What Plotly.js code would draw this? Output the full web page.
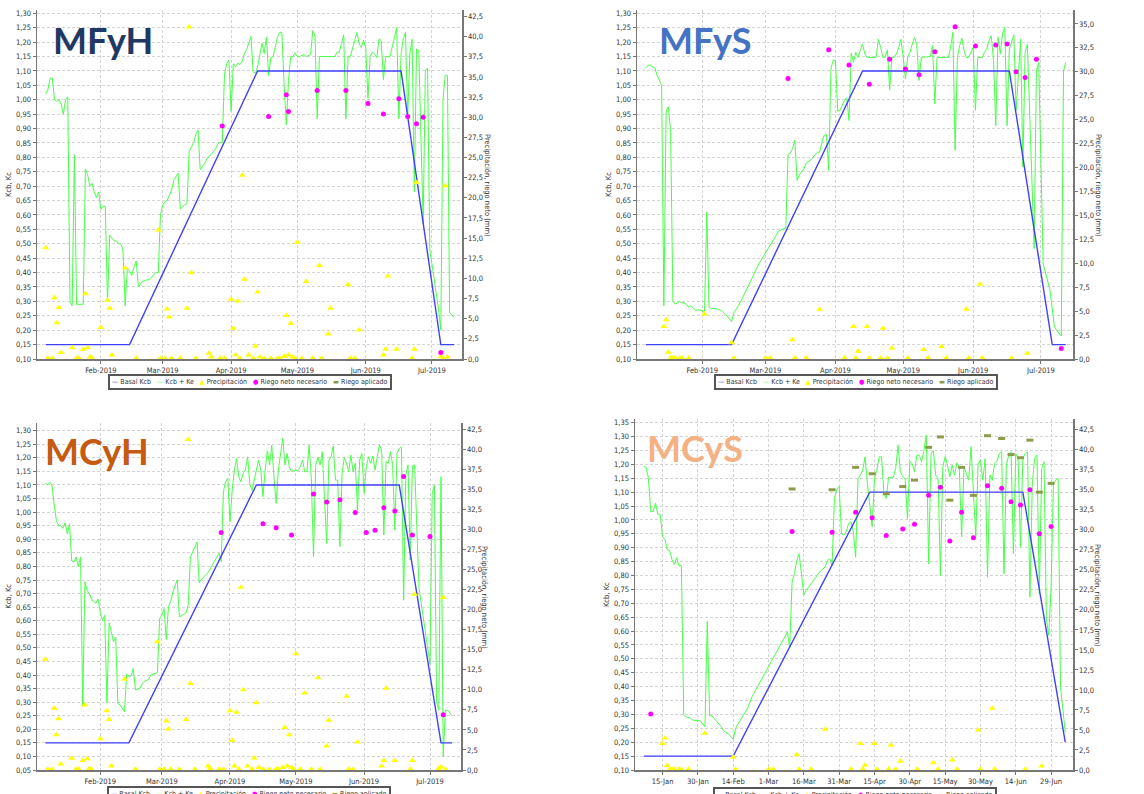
<!DOCTYPE html>
<html><head><meta charset="utf-8">
<script src="https://cdn.plot.ly/plotly-3.0.1.min.js"></script>
<style>html,body{margin:0;padding:0;background:#fff;}#chart{width:1144px;height:794px;}</style>
</head><body><div id="chart"></div>
<script>
// ---------- DATA (day of year 2019, value) ----------
const seriesNames = ['Basal Kcb','Kcb + Ke','Precipitación','Riego neto necesario','Riego aplicado'];
const panelNames = ['MFyH','MFyS','MCyH','MCyS'];

// Basal Kcb
const basal_MFyH = [[7,0.15],[45,0.15],[103,1.10],[168,1.10],[186,0.15],[192,0.15]];
const basal_MFyS = [[7,0.15],[45,0.15],[103,1.10],[168,1.10],[187,0.15],[193,0.15]];
const basal_MCyH = [[7,0.15],[45,0.15],[103,1.10],[168,1.10],[187,0.15],[192,0.15]];
const basal_MCyS = [[7,0.15],[45,0.15],[103,1.10],[168,1.10],[186,0.20]];

// Kcb + Ke
const kc_MFyH = [[7,1.02],[8,1.035],[9,1.075],[10,1.075],[11,1.00],[12,0.995],[13,1.00],[14,0.985],[15,0.95],[16,1.00],[17,1.01],[18,0.30],[19,0.285],[20,0.81],[21,0.29],[22,0.29],[23,0.29],[24,0.29],[25,0.76],[26,0.74],[27,0.70],[28,0.71],[29,0.68],[30,0.66],[31,0.68],[32,0.62],[33,0.63],[34,0.63],[35,0.30],[36,0.53],[37,0.52],[38,0.51],[39,0.51],[40,0.50],[41,0.50],[42,0.48],[43,0.285],[44,0.415],[45,0.405],[46,0.39],[47,0.42],[48,0.44],[49,0.35],[50,0.36],[51,0.37],[53,0.375],[54,0.375],[55,0.385],[57,0.40],[58,0.40],[59,0.60],[60,0.635],[61,0.645],[62,0.65],[63,0.665],[64,0.685],[65,0.72],[66,0.735],[67,0.745],[68,0.62],[69,0.63],[70,0.635],[71,0.64],[72,0.82],[73,0.835],[74,0.85],[75,0.88],[76,0.895],[77,0.757],[79,0.778],[80,0.795],[82,0.81],[84,0.83],[85,0.847],[86,0.853],[87,0.85],[88,1.09],[89,1.125],[90,1.138],[91,0.96],[92,1.125],[93,1.115],[94,1.127],[95,1.122],[96,1.133],[97,1.16],[98,1.173],[99,1.195],[100,1.22],[101,1.095],[102,1.092],[103,1.113],[104,1.16],[105,1.197],[106,1.16],[107,1.218],[108,1.084],[109,1.147],[110,1.15],[111,1.18],[112,1.217],[113,1.234],[114,1.234],[115,1.055],[116,0.913],[117,1.066],[118,1.15],[119,1.15],[120,1.163],[121,1.15],[122,1.15],[124,1.157],[125,1.15],[127,1.157],[128,1.24],[129,1.222],[130,0.934],[131,1.15],[138,1.15],[139,1.165],[140,1.165],[141,1.195],[142,1.225],[143,0.934],[144,1.15],[145,1.15],[146,1.176],[147,1.21],[148,1.234],[149,1.194],[150,1.182],[151,1.207],[152,1.18],[153,1.006],[154,1.15],[155,1.165],[156,1.159],[157,1.147],[158,1.211],[159,1.205],[160,1.07],[161,1.15],[163,1.15],[164,1.184],[165,1.219],[166,1.25],[167,0.934],[168,1.16],[169,1.211],[170,1.234],[171,0.94],[172,1.16],[173,1.21],[174,0.68],[175,1.176],[176,1.17],[178,0.57],[179,1.10],[180,1.11],[181,0.48],[182,0.43],[183,0.38],[184,0.33],[185,0.27],[186,0.20],[187,1.00],[188,1.085],[189,1.085],[190,0.26],[192,0.245]];
const kc_MFyS = [[7,1.11],[8,1.12],[9,1.12],[10,1.115],[11,1.11],[12,1.085],[13,1.07],[14,1.05],[15,0.285],[16,0.96],[17,0.975],[18,0.89],[19,0.30],[20,0.29],[21,0.295],[22,0.30],[23,0.295],[24,0.295],[25,0.29],[26,0.28],[27,0.285],[29,0.27],[30,0.27],[31,0.27],[33,0.265],[34,0.61],[35,0.28],[36,0.275],[37,0.275],[38,0.275],[40,0.27],[41,0.265],[42,0.255],[43,0.25],[44,0.24],[45,0.23],[46,0.26],[48,0.285],[50,0.315],[52,0.345],[54,0.38],[57,0.43],[60,0.47],[63,0.51],[66,0.545],[69,0.555],[70,0.81],[71,0.815],[72,0.83],[73,0.86],[74,0.72],[75,0.74],[77,0.76],[78,0.78],[80,0.79],[81,0.80],[83,0.818],[84,0.818],[85,0.853],[86,0.876],[87,0.88],[88,0.755],[89,1.107],[90,1.138],[91,1.136],[92,0.96],[93,0.963],[94,0.98],[95,0.997],[96,1.007],[97,0.928],[98,1.161],[99,1.13],[100,1.165],[101,1.147],[102,1.173],[103,1.193],[104,1.159],[105,1.147],[109,1.147],[110,1.21],[111,1.182],[112,1.147],[113,1.147],[114,1.173],[115,1.034],[116,1.147],[117,1.147],[118,1.159],[119,1.18],[120,1.21],[121,1.147],[122,1.072],[123,1.15],[124,1.165],[125,1.193],[126,1.217],[127,1.193],[128,1.067],[129,1.147],[133,1.15],[134,1.188],[135,0.986],[136,1.147],[141,1.147],[142,1.184],[143,1.234],[144,0.824],[145,1.147],[146,1.188],[147,1.214],[148,1.17],[149,1.147],[150,1.147],[151,1.165],[152,1.182],[153,0.963],[154,1.147],[156,1.147],[157,1.165],[158,1.176],[159,1.205],[160,1.222],[161,1.136],[162,0.91],[163,1.217],[164,1.159],[165,1.23],[166,1.251],[167,0.91],[168,1.176],[169,1.205],[170,1.226],[171,0.963],[172,1.10],[173,1.21],[174,0.766],[175,1.165],[176,1.193],[179,0.483],[180,1.10],[181,1.13],[183,0.43],[184,0.40],[186,0.34],[188,0.21],[190,0.19],[191,0.18],[192,1.10],[193,1.13]];
const kc_MCyH = [[7,1.106],[8,1.10],[9,1.11],[10,1.10],[11,1.03],[12,0.97],[13,0.95],[14,0.95],[15,0.94],[16,0.96],[17,0.92],[18,0.957],[19,0.82],[20,0.816],[21,0.835],[22,0.80],[23,0.835],[24,0.286],[25,0.743],[26,0.712],[27,0.70],[28,0.68],[29,0.669],[30,0.665],[31,0.68],[32,0.63],[33,0.60],[34,0.62],[35,0.298],[36,0.592],[37,0.559],[38,0.522],[39,0.54],[40,0.295],[41,0.29],[42,0.277],[43,0.265],[44,0.403],[45,0.396],[46,0.396],[47,0.424],[48,0.345],[49,0.347],[50,0.35],[51,0.367],[52,0.375],[54,0.384],[55,0.40],[57,0.406],[58,0.41],[59,0.608],[60,0.62],[61,0.645],[62,0.531],[63,0.651],[64,0.67],[65,0.705],[66,0.73],[67,0.751],[68,0.614],[69,0.62],[70,0.626],[71,0.629],[72,0.657],[73,0.835],[74,0.853],[75,0.874],[76,0.89],[77,0.74],[79,0.762],[81,0.777],[83,0.805],[85,0.836],[86,0.848],[87,0.818],[88,1.075],[89,1.112],[90,1.125],[91,0.965],[92,1.08],[93,1.155],[94,1.198],[95,1.13],[96,1.112],[97,1.143],[98,1.155],[99,1.204],[100,1.106],[101,1.08],[102,1.118],[103,1.161],[104,1.192],[105,1.155],[106,1.057],[107,1.155],[108,1.226],[109,1.174],[110,1.247],[111,1.13],[112,1.032],[113,1.155],[114,1.216],[115,1.272],[116,1.174],[117,1.216],[118,1.167],[119,1.149],[120,1.153],[122,1.153],[123,1.167],[124,1.192],[125,1.149],[126,1.149],[127,1.247],[128,1.125],[129,0.836],[130,1.174],[131,1.202],[132,1.174],[133,1.223],[134,1.039],[135,0.885],[136,1.192],[137,1.204],[138,1.244],[139,1.118],[140,1.118],[141,0.873],[142,1.143],[143,1.202],[144,1.18],[145,1.149],[146,1.21],[147,1.149],[148,1.18],[149,1.008],[150,1.192],[151,1.216],[152,1.069],[153,1.167],[154,1.204],[155,1.18],[156,1.207],[157,1.155],[158,1.204],[159,1.247],[160,1.229],[161,0.916],[162,1.186],[163,1.18],[164,1.223],[165,1.174],[166,0.934],[167,1.216],[168,1.235],[169,1.239],[170,0.676],[171,1.137],[172,1.174],[173,0.824],[174,1.17],[175,1.174],[177,0.72],[179,0.60],[182,0.44],[183,1.07],[184,1.10],[185,0.30],[186,0.27],[187,1.13],[188,0.10],[189,0.27],[190,0.27],[192,0.25]];
const kc_MCyS = [[7,1.193],[8,1.19],[9,1.15],[10,1.03],[11,1.03],[12,1.06],[13,1.02],[14,1.02],[15,0.94],[16,0.93],[17,0.893],[18,0.89],[19,0.857],[20,0.84],[21,0.864],[22,0.834],[23,0.836],[24,0.30],[25,0.291],[27,0.286],[28,0.279],[30,0.277],[31,0.277],[33,0.255],[34,0.635],[35,0.295],[36,0.295],[38,0.275],[40,0.255],[41,0.24],[43,0.23],[45,0.21],[46,0.25],[48,0.279],[51,0.32],[53,0.364],[56,0.41],[59,0.46],[62,0.505],[65,0.55],[68,0.596],[69,0.54],[70,0.776],[71,0.806],[72,0.854],[73,0.878],[75,0.73],[76,0.746],[78,0.77],[80,0.794],[82,0.816],[84,0.83],[85,0.854],[86,0.86],[87,0.836],[88,1.077],[89,1.11],[90,1.121],[91,0.95],[92,0.945],[93,0.957],[94,0.987],[95,0.993],[96,0.957],[97,0.866],[98,1.149],[99,1.16],[100,1.179],[101,1.227],[102,1.13],[103,1.04],[104,0.975],[105,1.149],[106,1.179],[107,1.227],[108,1.227],[109,1.095],[110,1.077],[111,1.153],[112,1.153],[113,1.153],[114,1.185],[115,1.27],[116,1.173],[117,1.155],[118,1.149],[119,1.005],[120,1.21],[121,1.203],[122,1.173],[123,1.233],[124,1.233],[125,1.21],[126,1.25],[127,1.305],[128,0.842],[129,1.239],[130,1.249],[131,1.161],[132,1.149],[133,0.80],[134,1.19],[135,1.227],[136,1.197],[137,1.155],[138,1.197],[139,1.161],[140,1.205],[141,1.191],[142,0.939],[143,1.191],[144,1.167],[145,1.143],[146,1.263],[147,1.089],[148,0.939],[149,1.203],[150,1.215],[151,1.143],[152,1.22],[153,0.794],[154,1.161],[155,1.143],[156,1.203],[157,1.21],[158,1.239],[159,1.245],[160,0.806],[161,1.197],[162,1.233],[163,1.245],[164,0.878],[165,1.239],[166,1.221],[167,0.902],[168,1.221],[169,1.239],[170,1.245],[171,0.722],[172,1.125],[173,1.221],[174,1.233],[175,0.734],[176,1.185],[177,1.209],[178,0.644],[179,0.584],[180,0.758],[181,1.131],[182,1.143],[183,1.149],[184,0.397],[185,0.32],[186,0.236]];

// Precipitación (mm)
const prec_MFyH = [[7,13.8],[8,0.1],[10,0.1],[11,7.6],[12,4.5],[13,6.4],[14,0.8],[19,1.4],[21,0.1],[22,0.1],[24,1.2],[25,8.1],[26,1.4],[27,0.25],[28,0.1],[32,3.9],[35,7.3],[36,6.3],[37,0.5],[43,11.3],[48,0.1],[58,16.0],[59,0.1],[61,0.1],[62,6.2],[63,5.2],[64,0.1],[68,0.1],[71,6.3],[72,41.2],[73,10.7],[75,0.1],[81,0.7],[82,0.25],[86,0.1],[88,0.1],[91,7.4],[92,3.8],[93,0.5],[94,7.2],[95,0.1],[96,22.8],[97,9.9],[99,0.5],[101,0.1],[102,1.6],[103,8.3],[104,0.25],[106,0.1],[109,0.1],[112,0.1],[113,0.1],[115,0.3],[116,5.4],[117,0.5],[118,4.4],[119,0.25],[120,0.1],[121,14.5],[123,0.1],[125,9.6],[128,0.1],[131,11.6],[132,0.1],[135,3.1],[136,6.3],[144,9.2],[145,0.1],[147,0.1],[149,3.6],[160,0.5],[161,1.2],[162,10.3],[166,1.2],[173,0.1],[174,1.2],[175,21.9],[186,0.3],[187,0.1],[188,21.5],[189,0.25]];
const prec_MFyS = [[15,3.4],[16,4.1],[17,0.7],[18,0.1],[19,0.1],[20,0.1],[22,0.1],[23,0.1],[26,0.1],[33,4.7],[45,1.7],[46,0.1],[60,0.1],[62,0.1],[72,2.0],[73,0.1],[78,0.1],[84,5.2],[95,0.1],[99,3.4],[100,0.1],[101,0.8],[105,3.4],[106,0.1],[111,0.1],[112,3.2],[114,0.1],[116,1.15],[123,0.1],[130,1.0],[132,0.1],[138,1.3],[140,0.1],[149,5.2],[150,0.1],[155,7.8],[156,0.1],[169,0.1],[176,0.6]];
const prec_MCyH = [[7,13.8],[8,0.1],[10,0.1],[11,7.7],[12,4.4],[13,6.4],[14,0.75],[19,1.45],[21,0.1],[22,0.1],[24,1.2],[25,8.1],[26,1.4],[27,0.2],[28,0.1],[32,3.9],[35,7.4],[36,6.3],[37,0.5],[43,11.3],[48,0.1],[58,16.0],[59,0.1],[61,0.1],[62,6.1],[63,5.1],[64,0.1],[68,0.1],[71,6.3],[72,41.2],[73,10.8],[75,0.1],[81,0.5],[82,0.2],[86,0.1],[88,0.1],[91,7.4],[92,3.7],[93,0.5],[94,7.2],[95,0.1],[96,22.8],[97,10.0],[99,0.5],[101,0.1],[102,1.5],[103,8.4],[104,0.3],[106,0.1],[109,0.1],[112,0.1],[113,0.1],[115,0.3],[116,5.3],[117,0.5],[118,4.4],[119,0.3],[120,0.1],[121,14.5],[123,0.1],[125,9.6],[128,0.1],[131,11.5],[132,0.1],[135,3.0],[136,6.2],[144,9.2],[145,0.1],[147,0.1],[149,3.5],[160,0.5],[161,1.2],[162,10.2],[166,1.2],[173,0.1],[174,1.2],[175,21.9],[186,0.2],[187,0.4],[188,21.5],[189,0.1]];
const prec_MCyS = [[15,3.3],[16,4.0],[17,0.55],[18,0.1],[19,0.1],[20,0.1],[22,0.1],[23,0.1],[26,0.1],[33,4.6],[45,1.6],[46,0.1],[60,0.1],[62,0.1],[72,1.9],[73,0.1],[78,0.1],[84,5.1],[95,0.1],[99,3.3],[100,0.1],[101,0.6],[105,3.3],[106,0.1],[111,0.1],[112,3.1],[114,0.1],[116,1.1],[123,0.1],[130,0.9],[132,0.1],[138,1.25],[140,0.1],[149,5.0],[150,0.1],[155,7.7],[156,0.1],[169,0.1],[176,0.5]];

// Riego neto necesario (mm)
const neto_MFyH = [[87,28.9],[108,30.1],[116,32.8],[117,30.7],[130,33.3],[143,33.3],[153,31.7],[160,30.4],[167,32.3],[171,30.1],[175,29.2],[178,30.0],[186,0.8]];
const neto_MFyS = [[70,29.3],[88,32.3],[97,30.7],[106,28.7],[115,31.3],[122,30.3],[128,29.7],[135,32.1],[144,34.7],[153,32.7],[162,32.8],[167,32.9],[171,30.0],[175,29.4],[180,31.3],[191,1.1]];
const neto_MCyH = [[87,29.6],[106,30.7],[112,30.2],[119,29.3],[129,34.4],[135,33.4],[141,33.7],[148,32.1],[153,29.6],[157,29.9],[161,32.7],[166,32.3],[170,36.6],[174,29.3],[182,29.1],[188,6.9]];
const neto_MCyS = [[10,7.0],[70,29.8],[87,29.7],[97,32.2],[104,31.5],[110,29.3],[117,30.1],[122,30.7],[128,34.3],[133,35.3],[137,28.6],[142,32.2],[147,29.0],[153,35.5],[159,35.2],[163,33.5],[167,33.1],[171,35.0],[175,29.5],[180,30.4]];

// Riego aplicado (mm)
const apl_MFyH = [];
const apl_MFyS = [];
const apl_MCyH = [];
const apl_MCyS = [[70,35.1],[87,35.0],[97,37.8],[104,37.0],[110,34.5],[117,35.4],[122,36.2],[128,40.3],[133,41.6],[137,33.7],[142,37.8],[147,34.3],[153,41.75],[159,41.4],[163,39.4],[167,39.0],[171,41.2],[175,34.7],[180,35.8]];

// ---------- LAYOUT / STYLE ----------
const W = 1144, H = 794;
const FONT = 'DejaVu Sans Condensed, DejaVu Sans, sans-serif';
const C_BASAL = '#4040ff', C_KC = '#47ff47', C_PREC = '#ffff00', C_NETO = '#ff00ff', C_APL = '#8f9a4a';
const titleColors = ['#1F3864', '#4472C4', '#C55A11', '#F4B183'];

function toDate(d) {
  return new Date(Date.UTC(2019, 0, 1) + (d - 1) * 86400000).toISOString().slice(0, 19).replace('T', ' ');
}
const xs = a => a.map(p => toDate(p[0]));
const ys = a => a.map(p => p[1]);

const panels = [
  {basal: basal_MFyH, kc: kc_MFyH, prec: prec_MFyH, neto: neto_MFyH, apl: apl_MFyH,
   px: [37, 462], py: [10, 359], yl: [0.10, 1.3116], yt0: 0.10, yr: [0, 43.3], xr: [3.06, 195.6],
   title: [103, 40], rt: [487, 185], leg: [250, 374], monthly: true},
  {basal: basal_MFyS, kc: kc_MFyS, prec: prec_MFyS, neto: neto_MFyS, apl: apl_MFyS,
   px: [637, 1073], py: [10, 359], yl: [0.10, 1.3116], yt0: 0.10, yr: [0, 36.45], xr: [3.1, 196.2],
   title: [705, 40], rt: [1098, 185], leg: [856, 374], monthly: true},
  {basal: basal_MCyH, kc: kc_MCyH, prec: prec_MCyH, neto: neto_MCyH, apl: apl_MCyH,
   px: [37, 461], py: [422.7, 770], yl: [0.05, 1.3295], yt0: 0.05, yr: [0, 43.3], xr: [3.2, 196.1],
   title: [97, 451], rt: [485, 597], leg: [249, 786], monthly: true},
  {basal: basal_MCyS, kc: kc_MCyS, prec: prec_MCyS, neto: neto_MCyS, apl: apl_MCyS,
   px: [635, 1073], py: [419.3, 770], yl: [0.10, 1.362], yt0: 0.10, yr: [0, 43.8], xr: [3.3, 189.3],
   title: [695, 448], rt: [1098, 595], leg: [855, 787], monthly: false}
];

const data = [];
const layout = {
  width: W, height: H, margin: {l: 0, r: 0, t: 0, b: 0, autoexpand: false},
  paper_bgcolor: '#fff', plot_bgcolor: '#fff', showlegend: false, separators: ',.',
  font: {family: FONT, size: 7.5, color: '#333'}, annotations: []
};

const tickFont = {family: FONT, size: 7.5, color: '#333'};
const legendText =
  '<span style="color:' + C_BASAL + '">\u2014</span>\u00a0' + seriesNames[0] + '\u00a0\u00a0\u00a0' +
  '<span style="color:' + C_KC + '">\u2014</span>\u00a0' + seriesNames[1] + '\u00a0\u00a0\u00a0' +
  '<span style="color:' + C_PREC + '">\u25B2</span>\u00a0' + seriesNames[2] + '\u00a0\u00a0\u00a0' +
  '<span style="color:' + C_NETO + '">\u25CF</span>\u00a0' + seriesNames[3] + '\u00a0\u00a0\u00a0' +
  '<span style="color:' + C_APL + '">\u25AC</span>\u00a0' + seriesNames[4];

panels.forEach((p, i) => {
  const xn = i ? 'x' + (i + 1) : 'x';
  const yl = 'y' + (2 * i + 1 === 1 ? '' : 2 * i + 1);
  const yr = 'y' + (2 * i + 2);
  const xKey = 'xaxis' + (i ? i + 1 : '');
  const ylKey = 'yaxis' + (2 * i + 1 === 1 ? '' : 2 * i + 1);
  const yrKey = 'yaxis' + (2 * i + 2);

  const xax = {
    type: 'date', domain: [p.px[0] / W, p.px[1] / W], anchor: yl,
    range: [toDate(p.xr[0]), toDate(p.xr[1])],
    showgrid: true, gridcolor: '#d4d4d4', griddash: '3px,2px', gridwidth: 1,
    showline: true, linecolor: '#777', linewidth: 1.5, zeroline: false,
    ticks: 'outside', ticklen: 3, tickcolor: '#777', tickfont: tickFont
  };
  if (p.monthly) { xax.dtick = 'M1'; xax.tick0 = '2019-02-01'; xax.tickformat = '%b-%Y'; }
  else { xax.dtick = 15 * 86400000; xax.tick0 = '2019-01-15'; xax.tickformat = '%-d-%b'; }
  layout[xKey] = xax;

  layout[ylKey] = {
    domain: [1 - p.py[1] / H, 1 - p.py[0] / H], anchor: xn, range: p.yl,
    tick0: p.yt0, dtick: 0.05, tickformat: '.2f',
    showgrid: true, gridcolor: '#d4d4d4', griddash: '3px,2px', gridwidth: 1,
    showline: true, linecolor: '#777', linewidth: 1.5, zeroline: false,
    ticks: 'outside', ticklen: 3, tickcolor: '#777', tickfont: tickFont,
    title: {text: 'Kcb, Kc', font: {family: FONT, size: 7.5, color: '#333'}, standoff: 3}
  };
  layout[yrKey] = {
    overlaying: yl, side: 'right', anchor: xn, range: p.yr,
    tick0: 0, dtick: 2.5, tickformat: '.1f', showgrid: false,
    showline: true, linecolor: '#777', linewidth: 1.5, zeroline: false,
    ticks: 'outside', ticklen: 3, tickcolor: '#777', tickfont: tickFont
  };

  data.push({type: 'scatter', mode: 'lines', name: seriesNames[1], x: xs(p.kc), y: ys(p.kc),
    xaxis: xn, yaxis: yl, line: {color: C_KC, width: 1}});
  data.push({type: 'scatter', mode: 'lines', name: seriesNames[0], x: xs(p.basal), y: ys(p.basal),
    xaxis: xn, yaxis: yl, line: {color: C_BASAL, width: 1.4}});
  data.push({type: 'scatter', mode: 'markers', name: seriesNames[2], x: xs(p.prec), y: ys(p.prec),
    xaxis: xn, yaxis: yr, cliponaxis: false,
    marker: {symbol: 'triangle-up', size: 6, color: C_PREC, line: {width: 0}}});
  data.push({type: 'scatter', mode: 'markers', name: seriesNames[3], x: xs(p.neto), y: ys(p.neto),
    xaxis: xn, yaxis: yr, cliponaxis: false,
    marker: {symbol: 'circle', size: 5, color: C_NETO, line: {width: 0}}});
  data.push({type: 'scatter', mode: 'markers', name: seriesNames[4], x: xs(p.apl), y: ys(p.apl),
    xaxis: xn, yaxis: yr, cliponaxis: false,
    marker: {symbol: 'line-ew', size: 5, color: C_APL, line: {width: 3, color: C_APL}}});

  // panel title
  layout.annotations.push({xref: 'paper', yref: 'paper', x: p.title[0] / W, y: 1 - p.title[1] / H,
    xanchor: 'center', yanchor: 'middle', showarrow: false, text: '<b>' + panelNames[i] + '</b>',
    font: {family: 'Lato, Open Sans, sans-serif', size: 36, color: titleColors[i]}});
  // right axis title
  layout.annotations.push({xref: 'paper', yref: 'paper', x: p.rt[0] / W, y: 1 - p.rt[1] / H,
    xanchor: 'center', yanchor: 'middle', showarrow: false, textangle: 90,
    text: 'Precipitación, riego neto (mm)', font: {family: FONT, size: 7.5, color: '#333'}});
  // legend box
  layout.annotations.push({xref: 'paper', yref: 'paper', x: p.leg[0] / W, y: 1 - p.leg[1] / H,
    xanchor: 'center', yanchor: 'top', showarrow: false, text: legendText,
    bgcolor: '#fff', bordercolor: '#555', borderwidth: 2, borderpad: 2,
    font: {family: FONT, size: 7, color: '#333'}});
});

Plotly.newPlot('chart', data, layout, {staticPlot: true, displayModeBar: false});
</script>
</body></html>
